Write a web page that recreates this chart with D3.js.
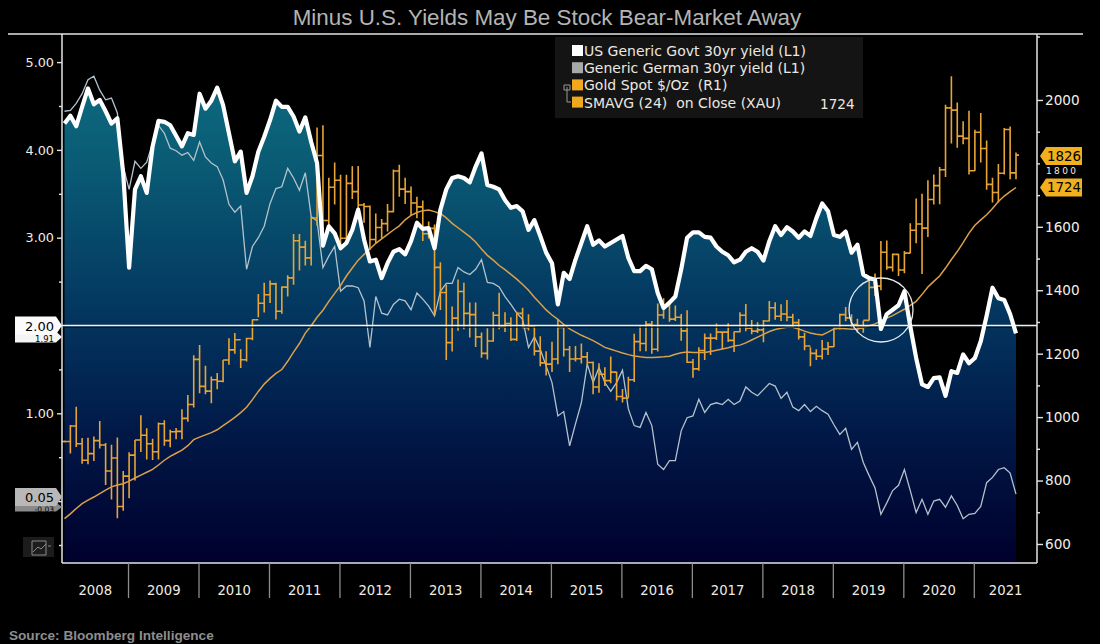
<!DOCTYPE html>
<html><head><meta charset="utf-8">
<script src="https://cdn.jsdelivr.net/npm/d3@7"></script>
<style>html,body{margin:0;padding:0;background:#000}svg{display:block}text{font-family:"DejaVu Sans",sans-serif;white-space:pre}</style>
</head><body><svg id="c" width="1100" height="644"></svg>
<script>
const years=[2008,2009,2010,2011,2012,2013,2014,2015,2016,2017,2018,2019,2020,2021];
const usYield=[4.30,4.39,4.27,4.49,4.70,4.52,4.57,4.44,4.30,4.36,3.73,2.66,3.55,3.70,3.51,4.04,4.33,4.32,4.28,4.16,4.04,4.19,4.17,4.64,4.47,4.56,4.71,4.51,4.19,3.87,3.98,3.51,3.70,3.98,4.15,4.34,4.56,4.49,4.49,4.38,4.21,4.37,4.09,3.85,2.91,3.13,3.05,2.88,2.94,3.09,3.32,
2.98,2.73,2.75,2.54,2.71,2.84,2.87,2.81,2.96,3.17,3.10,3.11,2.88,3.32,3.55,3.68,3.70,3.68,3.63,3.81,3.96,3.60,3.58,3.55,3.43,3.34,3.36,3.30,3.09,3.20,3.02,2.83,2.71,2.24,2.60,2.53,2.75,2.94,3.13,2.92,2.97,2.90,2.94,2.98,3.02,2.77,2.62,2.62,2.68,2.64,2.37,2.20,2.26,2.33,2.64,3.00,3.06,3.06,3.01,3.00,2.90,
2.84,2.80,2.72,2.75,2.84,2.88,2.84,2.74,2.96,3.13,3.03,3.12,3.07,3.00,3.07,3.02,3.22,3.39,3.30,3.03,3.01,3.07,2.83,2.92,2.58,2.54,2.52,
1.96,2.13,2.18,2.23,2.39,1.99,1.63,1.33,1.30,1.40,1.41,1.20,1.48,1.46,1.67,1.57,1.63,1.82,2.11,2.43,2.31,2.29,2.13,1.91];
const germanYield=[4.44,4.45,4.53,4.64,4.80,4.84,4.68,4.57,4.59,4.42,3.81,3.55,3.87,3.79,3.86,4.08,4.28,4.19,4.02,3.99,3.94,3.97,3.88,4.09,3.92,3.85,3.81,3.66,3.38,3.29,3.36,2.64,2.90,3.00,3.13,3.39,3.56,3.58,3.79,3.68,3.54,3.74,3.24,3.19,2.66,2.79,2.90,2.39,2.45,2.45,2.43,
2.28,1.75,2.33,2.14,2.12,2.24,2.30,2.28,2.18,2.37,2.30,2.22,2.11,2.39,2.48,2.48,2.66,2.61,2.58,2.64,2.75,2.49,2.48,2.44,2.33,2.24,2.14,2.07,1.75,1.87,1.73,1.54,1.35,0.97,1.02,0.63,0.88,1.12,1.56,1.35,1.52,1.35,1.25,1.35,1.49,1.05,0.86,0.84,1.01,0.86,0.42,0.36,0.46,0.46,0.80,0.95,0.97,1.16,1.01,1.10,1.12,
1.10,1.16,1.10,1.14,1.30,1.24,1.20,1.27,1.34,1.31,1.17,1.24,1.07,1.03,1.10,1.02,1.08,1.03,0.99,0.87,0.76,0.83,0.59,0.67,0.44,0.29,0.15,
-0.15,-0.02,0.12,0.18,0.36,0.12,-0.13,0.02,-0.15,0,0.02,-0.07,0.06,-0.05,-0.20,-0.15,-0.14,-0.06,0.21,0.27,0.36,0.38,0.32,0.08];
const goldHigh=[926,975,1033,934,935,939,988,918,913,936,830,889,
928,1006,965,932,983,990,960,966,1025,1070,1195,1227,
1162,1128,1139,1180,1249,1265,1214,1250,1308,1388,1424,1431,
1424,1412,1447,1577,1577,1556,1632,1913,1920,1755,1803,1764,
1764,1791,1792,1675,1667,1642,1625,1672,1781,1796,1755,1727,
1695,1683,1617,1607,1488,1417,1349,1434,1424,1361,1361,1267,
1280,1332,1392,1331,1315,1332,1345,1324,1287,1255,1208,1238,
1307,1286,1224,1224,1232,1205,1175,1170,1157,1191,1143,1089,
1127,1263,1287,1303,1303,1358,1375,1367,1352,1325,1337,1183,
1220,1264,1264,1295,1270,1296,1270,1331,1357,1306,1299,1306,
1366,1362,1356,1369,1326,1309,1266,1220,1214,1243,1237,1284,
1326,1347,1324,1310,1304,1439,1453,1555,1557,1516,1515,1524,
1611,1689,1704,1747,1765,1789,1985,2075,1992,1933,1966,1906,
1959,1872,1755,1798,1912,1916,1834];
const goldLow=[920,885,906,853,851,862,901,786,740,681,705,744,
800,890,866,865,866,910,905,930,930,985,1030,1075,
1072,1044,1088,1110,1165,1200,1155,1175,1242,1315,1330,1360,
1308,1326,1380,1417,1462,1478,1478,1603,1535,1604,1670,1531,
1563,1688,1628,1613,1527,1548,1564,1585,1646,1695,1672,1635,
1627,1555,1563,1321,1338,1180,1207,1272,1277,1251,1221,1187,
1182,1238,1277,1268,1240,1240,1281,1273,1194,1160,1131,1142,
1167,1191,1142,1175,1169,1162,1072,1077,1098,1107,1052,1046,
1061,1111,1208,1208,1200,1207,1310,1301,1303,1241,1171,1124,
1146,1180,1196,1243,1214,1237,1205,1267,1271,1261,1265,1236,
1302,1307,1303,1302,1282,1245,1211,1160,1180,1182,1196,1221,
1276,1302,1281,1266,1266,1305,1382,1400,1465,1459,1445,1454,
1517,1548,1451,1568,1670,1671,1757,1863,1849,1860,1765,1776,
1803,1717,1677,1677,1765,1750,1750];
const goldClose=[923,972,916,864,885,926,912,830,871,718,814,880,
928,943,916,891,979,926,954,955,996,1040,1182,1097,
1082,1118,1113,1180,1212,1244,1181,1248,1307,1359,1386,1420,
1334,1410,1439,1556,1536,1502,1628,1825,1620,1725,1747,1564,
1737,1711,1669,1664,1560,1598,1610,1648,1776,1719,1711,1675,
1663,1578,1595,1472,1393,1235,1312,1396,1327,1323,1253,1201,
1240,1321,1284,1295,1245,1327,1282,1287,1208,1171,1167,1183,
1283,1213,1183,1184,1190,1172,1095,1135,1115,1142,1065,1060,
1118,1238,1232,1293,1214,1322,1351,1309,1315,1272,1173,1152,
1210,1249,1249,1268,1268,1242,1269,1321,1280,1271,1275,1303,
1345,1318,1325,1315,1298,1253,1224,1201,1192,1215,1222,1282,
1323,1313,1292,1283,1305,1409,1413,1520,1472,1513,1464,1517,
1589,1609,1596,1686,1730,1780,1975,1968,1886,1879,1777,1898,
1847,1734,1708,1769,1907,1770,1826];
const goldOpen=[923,923,972,916,864,885,926,912,830,871,718,814,
880,928,943,916,891,979,926,954,955,996,1040,1182,
1097,1082,1118,1113,1180,1212,1244,1181,1248,1307,1359,1386,
1420,1334,1410,1439,1556,1536,1502,1628,1825,1620,1725,1747,
1564,1737,1711,1669,1664,1560,1598,1610,1648,1776,1719,1711,
1675,1663,1578,1595,1472,1393,1235,1312,1396,1327,1323,1253,
1201,1240,1321,1284,1295,1245,1327,1282,1287,1208,1171,1167,
1183,1283,1213,1183,1184,1190,1172,1095,1135,1115,1142,1065,
1060,1118,1238,1232,1293,1214,1322,1351,1309,1315,1272,1173,
1152,1210,1249,1249,1268,1268,1242,1269,1321,1280,1271,1275,
1303,1345,1318,1325,1315,1298,1253,1224,1201,1192,1215,1222,
1282,1323,1313,1292,1283,1305,1409,1413,1520,1472,1513,1464,
1517,1589,1609,1596,1686,1730,1780,1975,1968,1886,1879,1777,
1898,1847,1734,1708,1769,1907,1770];
const goldSma=[680,695,712,727,738,748,759,770,780,786,790,798,808,817,826,835,849,864,876,886,896,910,929,937,944,951,960,973,986,999,1014,1031,1055,1081,1104,1122,1138,1150,1176,1205,1232,1265,1288,1315,1337,1365,1390,1415,1445,1470,1495,1513,1530,1548,1562,1576,1590,1603,1622,1636,1645,1651,1653,1648,1642,1628,1611,1597,1583,1569,1552,1530,1510,1495,1478,1465,1450,1435,1418,1400,1378,1358,1338,1322,1308,1292,1278,1268,1258,1250,1241,1231,1220,1214,1208,1202,1197,1193,1190,1188,1188,1189,1190,1192,1198,1203,1205,1204,1204,1204,1207,1211,1215,1219,1224,1227,1234,1243,1252,1261,1270,1276,1280,1283,1283,1278,1271,1265,1261,1259,1268,1278,1280,1279,1277,1278,1282,1288,1294,1303,1312,1320,1330,1340,1352,1365,1387,1410,1428,1445,1470,1497,1522,1550,1580,1605,1622,1638,1658,1680,1697,1711,1724];
const leftMajor=[5,4,3,1], leftMinor=[4.5,3.5,2.5,1.5,0.5,0,-0.5];
const rightMajor=[2000,1600,1400,1200,1000,800,600], rightMinor=[2200,1900,1800,1700,1500,1300,1100,900,700];
const legendLabels=["US Generic Govt 30yr yield (L1)","Generic German 30yr yield (L1)","Gold Spot $/Oz  (R1)","SMAVG (24)  on Close (XAU)"];
const legendColors=["#ffffff","#a8a8a8","#f2a81c","#f2a81c"];

const svg=d3.select("#c");
const L=62,R=1037,T=34,B=563;
const x=d3.scaleLinear().domain([0,162]).range([64.5,1016]);
const yL=d3.scaleLinear().domain([-0.705,5.32]).range([B,T]);
const yR=d3.scaleLinear().domain([540,2208]).range([B,T]);
const months=usYield.map((_,i)=>i);
const yearStart=y=>x((y-2008)*12-1.1);

svg.append("rect").attr("width",1100).attr("height",644).attr("fill","#000");
const defs=svg.append("defs");
const g=defs.append("linearGradient").attr("id","ga").attr("gradientUnits","userSpaceOnUse").attr("x1",0).attr("x2",0).attr("y1",70).attr("y2",B);
[[0,"#0c6c80"],[0.2,"#0a5a74"],[0.5,"#03355f"],[0.75,"#011746"],[1,"#00002c"]].forEach(s=>g.append("stop").attr("offset",s[0]).attr("stop-color",s[1]));

svg.append("path").datum(months).attr("fill","url(#ga)")
  .attr("d",d3.area().x(i=>x(i)).y0(B).y1(i=>yL(usYield[i])));
svg.append("path").datum(months).attr("fill","none").attr("stroke","#b4c2cc").attr("stroke-width",1.3)
  .attr("d",d3.line().x(i=>x(i)).y(i=>yL(germanYield[i])));

const bars=svg.append("g").attr("stroke","#e8a434").attr("stroke-width",1.6).attr("fill","none");
bars.selectAll("path").data(months).join("path").attr("d",i=>{
  const X=x(i);
  return `M${X},${yR(goldHigh[i])}V${yR(goldLow[i])}M${X-3},${yR(goldOpen[i])}H${X}M${X},${yR(goldClose[i])}H${X+3}`;
});
svg.append("path").datum(months).attr("fill","none").attr("stroke","#dca048").attr("stroke-width",1.5)
  .attr("d",d3.line().x(i=>x(i)).y(i=>yR(goldSma[i])));

// 2.00 reference line
svg.append("line").attr("x1",L).attr("x2",R).attr("y1",yL(2)+1.6).attr("y2",yL(2)+1.6).attr("stroke","#00101c").attr("stroke-width",1.4);
svg.append("line").attr("x1",L).attr("x2",R).attr("y1",yL(2)).attr("y2",yL(2)).attr("stroke","#f2f2f2").attr("stroke-width",1.7);

svg.append("path").datum(months).attr("fill","none").attr("stroke","#fff").attr("stroke-width",4.2).attr("stroke-linejoin","round")
  .attr("d",d3.line().x(i=>x(i)).y(i=>yL(usYield[i])));

svg.append("circle").attr("cx",881).attr("cy",310).attr("r",32).attr("fill","none").attr("stroke","#e8ecf0").attr("stroke-width",1.3);

// frame
const fr=svg.append("g").attr("stroke","#e4e4e4").attr("fill","none");
fr.append("line").attr("x1",8).attr("x2",1083).attr("y1",T).attr("y2",T).attr("stroke-width",1.5);
fr.append("line").attr("x1",L).attr("x2",L).attr("y1",T).attr("y2",B).attr("stroke-width",1.5);
fr.append("line").attr("x1",R).attr("x2",R).attr("y1",T).attr("y2",B).attr("stroke-width",1.5);
fr.append("line").attr("x1",L).attr("x2",R).attr("y1",B).attr("y2",B).attr("stroke-width",1.5);

// axes
const styleAxis=fs=>s=>{s.select(".domain").remove();s.selectAll("line").attr("stroke","#e4e4e4").attr("stroke-width",1.4);
  s.selectAll("text").attr("fill","#f2eee4").attr("font-size",fs);};
svg.append("g").attr("transform",`translate(${L},0)`).call(d3.axisLeft(yL).tickValues(leftMajor).tickFormat(d3.format(".2f")).tickSize(5).tickPadding(3)).call(styleAxis(12.8));
svg.append("g").attr("transform",`translate(${L},0)`).call(d3.axisLeft(yL).tickValues(leftMinor).tickFormat("").tickSize(3)).call(styleAxis(12.8));
svg.append("g").attr("transform",`translate(${R},0)`).call(d3.axisRight(yR).tickValues(rightMajor).tickFormat(d3.format("d")).tickSize(6).tickPadding(2)).call(styleAxis(13.6));
svg.append("g").attr("transform",`translate(${R},0)`).call(d3.axisRight(yR).tickValues(rightMinor).tickFormat("").tickSize(3)).call(styleAxis(13.6));

// year separators and labels
const edges=years.slice(1).map(yearStart);
svg.selectAll(".ys").data(edges).join("line").attr("x1",d=>d).attr("x2",d=>d).attr("y1",B).attr("y2",598).attr("stroke","#8c8c8c").attr("stroke-width",1.3);
const bounds=[L,...edges,R];
svg.selectAll(".yl").data(years).join("text").attr("x",(d,i)=>(bounds[i]+bounds[i+1])/2).attr("y",595).attr("text-anchor","middle")
  .attr("fill","#f0ece2").attr("font-size",13.2).text(d=>d);

// title & source
svg.append("text").attr("x",547).attr("y",25).attr("text-anchor","middle").attr("fill","#b4b4b4").attr("font-size",22.4).style("font-family","'Liberation Sans',Arial").text("Minus U.S. Yields May Be Stock Bear-Market Away");
svg.append("text").attr("x",9).attr("y",640).attr("fill","#8e8e8e").attr("font-size",13.6).attr("font-weight","bold").style("font-family","'Liberation Sans',Arial").text("Source: Bloomberg Intelligence");

// legend
svg.append("rect").attr("x",555).attr("y",37).attr("width",308).attr("height",81).attr("fill","#141414");
const lg=svg.append("g");
legendLabels.forEach((t,i)=>{
  const yy=51+i*17.2;
  lg.append("rect").attr("x",572).attr("y",yy-6).attr("width",11).attr("height",11).attr("fill",legendColors[i]);
  lg.append("text").attr("x",584).attr("y",yy+5).attr("fill","#ece8e0").attr("font-size",14).text(t);
});
lg.append("text").attr("x",820).attr("y",108.6).attr("fill","#ece8e0").attr("font-size",13.6).text(goldSma[goldSma.length-1]);
lg.append("path").attr("d","M567,87V102H571M564,85H570V90H564Z").attr("fill","none").attr("stroke","#999").attr("stroke-width",1);

// axis label partly hidden by the tag in the reference
svg.append("text").attr("x",1046).attr("y",174).attr("fill","#f2eee4").attr("font-size",9).attr("textLength",30).text("1800");

// right value tags
function rtag(y,text){
  const h=18;
  svg.append("path").attr("d",`M1040,${y}L1046,${y-h/2}H1082V${y+h/2}H1046Z`).attr("fill","#f2b01e");
  svg.append("text").attr("x",1064).attr("y",y+5).attr("text-anchor","middle").attr("fill","#000").attr("font-size",13.4).text(text);
}
rtag(156,"1826");
rtag(yR(goldSma[goldSma.length-1]),"1724");

// left value tags
function ltag(y,text,fill,color,h,fs,by){
  svg.append("path").attr("d",`M15,${y-h/2}H56L62,${y}L56,${y+h/2}H15Z`).attr("fill",fill);
  svg.append("text").attr("x",54).attr("y",by).attr("text-anchor","end").attr("fill",color).attr("font-size",fs).text(text);
}
ltag(337,"1.91","#f4f4f4","#000",11,8.5,341.5);
ltag(yL(2),"2.00","#fbfbfb","#000",18,13,331);
ltag(507,"-0.03","#8a8a8a","#000",9,7.5,512);
ltag(497,"0.05","#b8b8b8","#000",18,13,502);

// chart icon
svg.append("rect").attr("x",23).attr("y",537).attr("width",31).attr("height",20).attr("fill","#1c1c1c");
svg.append("path").attr("d","M32,541H46V555H32ZM33,552L38,547L41,549L46,544M48,546H51").attr("fill","none").attr("stroke","#8a8a8a").attr("stroke-width",1);
</script></body></html>
